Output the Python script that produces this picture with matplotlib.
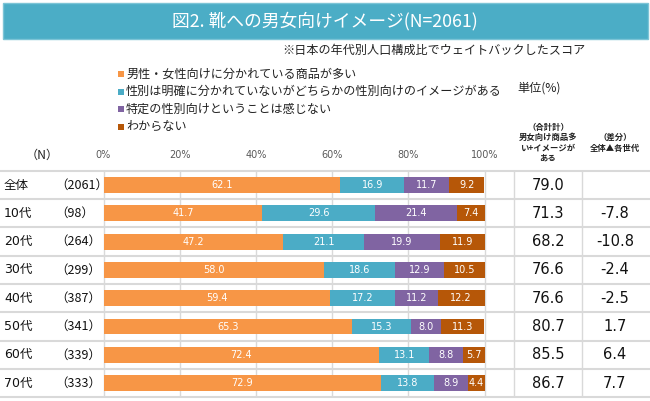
import matplotlib
matplotlib.use("Agg")
import matplotlib.pyplot as plt
from matplotlib.patches import Rectangle

plt.rcParams['font.family'] = ['Noto Sans CJK JP', 'DejaVu Sans']
NUM = ['DejaVu Sans', 'Noto Sans CJK JP']

title = "図2. 靴への男女向けイメージ(N=2061)"
subtitle = "※日本の年代別人口構成比でウェイトバックしたスコア"
categories = ["全体", "10代", "20代", "30代", "40代", "50代", "60代", "70代"]
n_labels = ["（2061）", "（98）", "（264）", "（299）", "（387）", "（341）", "（339）", "（333）"]
series_names = ["男性・女性向けに分かれている商品が多い",
                "性別は明確に分かれていないがどちらかの性別向けのイメージがある",
                "特定の性別向けということは感じない",
                "わからない"]
s1 = [62.1, 41.7, 47.2, 58.0, 59.4, 65.3, 72.4, 72.9]
s2 = [16.9, 29.6, 21.1, 18.6, 17.2, 15.3, 13.1, 13.8]
s3 = [11.7, 21.4, 19.9, 12.9, 11.2, 8.0, 8.8, 8.9]
s4 = [9.2, 7.4, 11.9, 10.5, 12.2, 11.3, 5.7, 4.4]
totals = ["79.0", "71.3", "68.2", "76.6", "76.6", "80.7", "85.5", "86.7"]
diffs = ["", "-7.8", "-10.8", "-2.4", "-2.5", "1.7", "6.4", "7.7"]
xticks = [0, 20, 40, 60, 80, 100]
xtick_labels = ["0%", "20%", "40%", "60%", "80%", "100%"]
colors = ["#F79646", "#4BACC6", "#8064A2", "#B65708"]

W, H = 650, 401
fig = plt.figure(figsize=(W / 100, H / 100), dpi=100)

# pixel mapping for main axes
X0, XS = 103.5, 3.81    # px of 0%, px per %
Y0, YS = 185.0, 28.3    # px of first row center, px per row
def dx(px):
    return (px - X0) / XS
def dy(py):
    return (py - Y0) / YS

ax = fig.add_axes([0, 0, 1, 1])
ax.set_xlim(dx(0), dx(W))
ax.set_ylim(dy(H), dy(0))
ax.axis("off")

def fx(px):
    return px / W
def fy(py):
    return 1 - py / H

# title band
fig.patches.append(Rectangle((fx(3), fy(39)), fx(645), 36 / H, transform=fig.transFigure,
                             facecolor="#4BADC6", edgecolor="#7CC4D6", linewidth=1, zorder=0))
fig.text(fx(325), fy(21), title, color="white", fontsize=12.8, ha="center", va="center")
fig.text(fx(282), fy(50), subtitle, color="#222222", fontsize=8.7, ha="left", va="center")

# legend
leg_y = [74, 91.5, 109, 126.5]
for name, c, yy in zip(series_names, colors, leg_y):
    fig.patches.append(Rectangle((fx(118), fy(yy + 3)), 6 / W, 6 / H, transform=fig.transFigure,
                                 facecolor=c, edgecolor="none"))
    fig.text(fx(126), fy(yy), name, fontsize=8.7, ha="left", va="center", color="#222222")
fig.text(fx(517), fy(88), "単位(%)", fontsize=8.7, ha="left", va="center", color="#222222")

# column headers
fig.text(fx(548), fy(143), "（合計計）\n男女向け商品多\nい+イメージが\nある", fontsize=6.0,
         ha="center", va="center", linespacing=1.15, color="#222222", fontweight="bold")
fig.text(fx(615), fy(143), "（差分）\n全体▲各世代", fontsize=6.0,
         ha="center", va="center", linespacing=1.2, color="#222222", fontweight="bold")

# grid lines
grid_c = "#D9D9D9"
n = len(categories)
top, bot = -0.5, n - 0.5
for t in xticks:
    ax.vlines(t, top, bot, color=grid_c, linewidth=1.0, zorder=1)
for xp in (514, 582):
    ax.vlines(dx(xp), top, bot, color=grid_c, linewidth=1.0, zorder=1)
for i in range(n + 1):
    ax.hlines(i - 0.5, dx(0), dx(W), color=grid_c, linewidth=1.5, zorder=1)

# tick labels
for t, lab in zip(xticks, xtick_labels):
    ax.text(t, dy(155), lab, ha="center", va="center", fontsize=7, color="#595959", family=NUM)
ax.text(dx(42), dy(155), "（N）", ha="center", va="center", fontsize=8.7, color="#222222")

# bars
left = [0.0] * n
for vals, c in zip([s1, s2, s3, s4], colors):
    ax.barh(range(n), vals, left=left, height=0.56, color=c, edgecolor="none", zorder=2)
    for i, v in enumerate(vals):
        ax.text(left[i] + v / 2, i, f"{v:.1f}", ha="center", va="center",
                color="white", fontsize=7, zorder=3, family=NUM)
    left = [l + v for l, v in zip(left, vals)]

# row labels and table
for i in range(n):
    ax.text(dx(4), i, categories[i], ha="left", va="center", fontsize=9, color="#111111", family=NUM)
    ax.text(dx(55), i, n_labels[i], ha="left", va="center", fontsize=9, color="#111111")
    ax.text(dx(548), i, totals[i], ha="center", va="center", fontsize=10.5, color="#111111", family=NUM)
    ax.text(dx(615), i, diffs[i], ha="center", va="center", fontsize=10.5, color="#111111", family=NUM)

fig.savefig("out.png", dpi=100)
